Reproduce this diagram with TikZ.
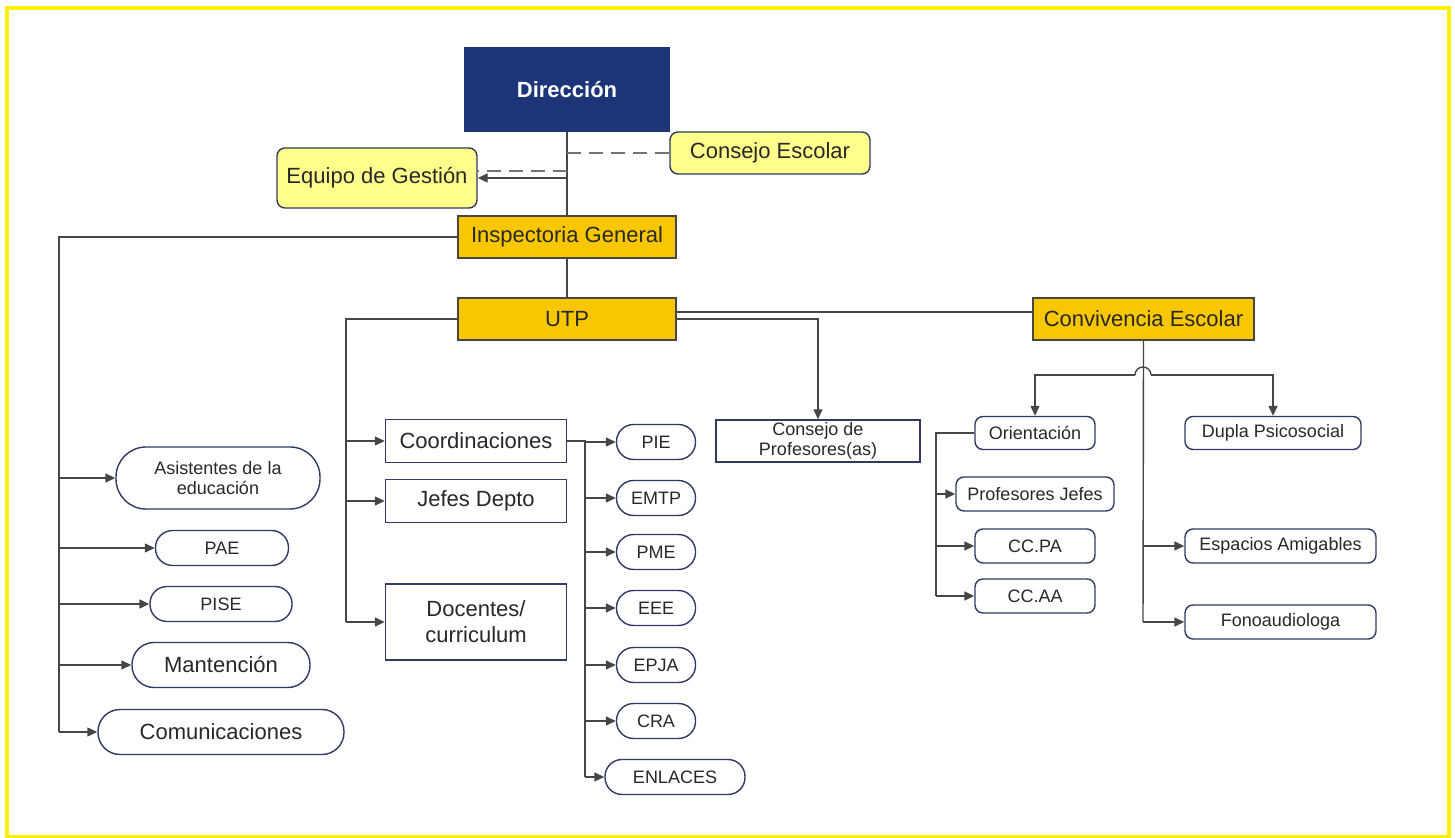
\documentclass[tikz,border=0pt]{standalone}
\usepackage{fontspec}
\setmainfont{Liberation Sans}
\usetikzlibrary{arrows.meta}

\definecolor{dirblue}{RGB}{27,53,120}
\definecolor{gold}{RGB}{249,199,0}
\definecolor{paleyellow}{RGB}{255,255,140}
\definecolor{navyline}{RGB}{48,58,98}
\definecolor{wiregray}{RGB}{70,70,70}
\definecolor{inkgray}{RGB}{40,40,40}

\newcommand{\bigtxt}{\fontsize{11}{13}\selectfont}
\newcommand{\smalltxt}{\fontsize{9}{10}\selectfont}

\tikzset{
  boss/.style={fill=dirblue, text=white, font=\bigtxt\bfseries, inner sep=0pt},
  council/.style={draw=navyline, fill=paleyellow, rounded corners=4pt, text=inkgray, font=\bigtxt, inner sep=0pt, line width=0.7pt},
  head/.style={draw=wiregray, fill=gold, text=inkgray, font=\bigtxt, inner sep=0pt, line width=0.7pt},
  unitbox/.style={draw=navyline, fill=white, text=inkgray, inner sep=0pt, align=center, line width=0.7pt},
  pill/.style={draw=navyline, fill=white, text=inkgray, inner sep=0pt, align=center, line width=0.7pt, rounded corners=#1},
  wire/.style={draw=wiregray, line width=0.7pt},
  arr/.style={wire, -{Triangle[length=5pt,width=4.5pt]}},
  dashline/.style={draw=wiregray!75, line width=1pt, dash pattern=on 7pt off 4pt},
}

\begin{document}
\begin{tikzpicture}[x=0.5pt, y=-0.5pt]
  \useasboundingbox (0,0) rectangle (1455,838);
  \draw[yellow, line width=2pt] (6.5,8) rectangle (1449,837);

  % top
  \node [boss, minimum width=103pt, minimum height=42.5pt] (dir) at (567,89.5) {Dirección};
  \node [council, minimum width=100pt, minimum height=21pt] (consejo) at (770,153) {Consejo Escolar};
  \node [council, minimum width=100pt, minimum height=30pt] (equipo) at (377,178) {Equipo de Gestión};
  \node [head, minimum width=109pt, minimum height=21pt] (insp) at (567,237) {Inspectoria General};
  \node [head, minimum width=109pt, minimum height=21pt] (utp) at (567,319) {UTP};
  \node [head, minimum width=110.5pt, minimum height=21pt] (conv) at (1143.5,319) {Convivencia Escolar};

  % inspectoria
  \node [pill=15pt, font=\smalltxt, minimum width=102pt, minimum height=31pt] (asist) at (218,478) {Asistentes de la\\educación};
  \node [pill=8.5pt, font=\smalltxt, minimum width=66.5pt, minimum height=17.5pt] (pae) at (222,548) {PAE};
  \node [pill=8.5pt, font=\smalltxt, minimum width=71pt, minimum height=17.5pt] (pise) at (221,604) {PISE};
  \node [pill=11pt, font=\bigtxt, minimum width=89pt, minimum height=22.5pt] (mant) at (221,665) {Mantención};
  \node [pill=11pt, font=\bigtxt, minimum width=123pt, minimum height=22.5pt] (comun) at (221,732) {Comunicaciones};

  % utp
  \node [unitbox, font=\bigtxt, minimum width=90.5pt, minimum height=21.5pt] (coord) at (476,441) {Coordinaciones};
  \node [unitbox, font=\bigtxt, minimum width=90.5pt, minimum height=21.5pt] (jefes) at (476,501) {Jefes Depto};
  \node [unitbox, font=\bigtxt, minimum width=90.5pt, minimum height=38pt] (docentes) at (476,622) {Docentes/\\curriculum};
  \node [unitbox, font=\smalltxt, minimum width=102pt, minimum height=21pt] (cprof) at (818,441) {Consejo de\\Profesores(as)};
  \node [pill=8.5pt, font=\smalltxt, minimum width=39.5pt, minimum height=17.5pt] (pie) at (656,442) {PIE};
  \node [pill=8.5pt, font=\smalltxt, minimum width=39.5pt, minimum height=17.5pt] (emtp) at (656,498) {EMTP};
  \node [pill=8.5pt, font=\smalltxt, minimum width=39.5pt, minimum height=17.5pt] (pme) at (656,552) {PME};
  \node [pill=8.5pt, font=\smalltxt, minimum width=39.5pt, minimum height=17.5pt] (eee) at (656,608) {EEE};
  \node [pill=8.5pt, font=\smalltxt, minimum width=39.5pt, minimum height=17.5pt] (epja) at (656,665) {EPJA};
  \node [pill=8.5pt, font=\smalltxt, minimum width=39.5pt, minimum height=17.5pt] (cra) at (656,721) {CRA};
  \node [pill=8.5pt, font=\smalltxt, minimum width=70pt, minimum height=17.5pt] (enl) at (675,777) {ENLACES};

  % convivencia
  \node [pill=4pt, font=\smalltxt, minimum width=60pt, minimum height=16.5pt] (orient) at (1035,433) {Orientación};
  \node [pill=4pt, font=\smalltxt, minimum width=88pt, minimum height=16.5pt] (dupla) at (1273,433) {Dupla Psicosocial};
  \node [pill=4pt, font=\smalltxt, minimum width=79pt, minimum height=17pt] (profj) at (1035,494) {Profesores Jefes};
  \node [pill=4pt, font=\smalltxt, minimum width=60pt, minimum height=17pt] (ccpa) at (1035,546) {CC.PA};
  \node [pill=4pt, font=\smalltxt, minimum width=60pt, minimum height=17pt] (ccaa) at (1035,596) {CC.AA};
  \node [pill=4pt, font=\smalltxt, minimum width=95.5pt, minimum height=17pt] (esp) at (1280.5,546) {Espacios Amigables};
  \node [pill=4pt, font=\smalltxt, minimum width=95.5pt, minimum height=17pt] (fono) at (1280.5,622) {Fonoaudiologa};

  % trunk
  \path[wire] (dir.south) edge (insp.north) (insp.south) edge (utp.north);
  \draw[dashline] (consejo.west) -- (consejo.west -| dir.south);
  \coordinate (eqd) at ([yshift=3.5pt]equipo.east);
  \draw[dashline] (eqd -| dir.south) -- (eqd);
  \draw[arr] (dir.south |- equipo.east) -- (equipo.east);

  % inspectoria branch
  \coordinate (ltop) at (59,237);
  \coordinate (lbot) at (59,732);
  \draw[wire] (insp.west) -- (ltop) -- (lbot);
  \foreach \n in {asist,pae,pise,mant,comun}
    \draw[arr] (ltop |- \n.west) -- (\n.west);

  % utp branches
  \coordinate (mtop) at (346,319);
  \coordinate (mbot) at (346,622);
  \draw[wire] (utp.west) -- (mtop) -- (mbot);
  \foreach \n in {coord,jefes,docentes}
    \draw[arr] (mtop |- \n.west) -- (\n.west);
  \coordinate (ctop) at (585,441);
  \coordinate (cbot) at (585,777);
  \draw[wire] (coord.east) -- (ctop) -- (cbot);
  \foreach \n in {pie,emtp,pme,eee,epja,cra,enl}
    \draw[arr] (ctop |- \n.west) -- (\n.west);
  \draw[arr] (utp.east) -| (cprof.north);
  \coordinate (ud) at ([yshift=3.5pt]utp.east);
  \draw[wire] (ud) -- (ud -| conv.west);

  % convivencia branches
  \coordinate (vbot) at (1143,622);
  \draw[wire] (conv.south) -- (vbot);
  \draw[arr] (conv.south |- esp.west) -- (esp.west);
  \draw[arr] (vbot) -- (fono.west);
  \coordinate (hopl) at (1135,375);
  \coordinate (hopr) at (1151,375);
  \draw[wire] (hopl) arc (180:360:8);
  \draw[arr] (hopl) -| (orient.north);
  \draw[arr] (hopr) -| (dupla.north);
  \coordinate (otop) at (936,433);
  \coordinate (obot) at (936,596);
  \draw[wire] (orient.west) -- (otop) -- (obot);
  \foreach \n in {profj,ccpa,ccaa}
    \draw[arr] (otop |- \n.west) -- (\n.west);
\end{tikzpicture}
\end{document}
